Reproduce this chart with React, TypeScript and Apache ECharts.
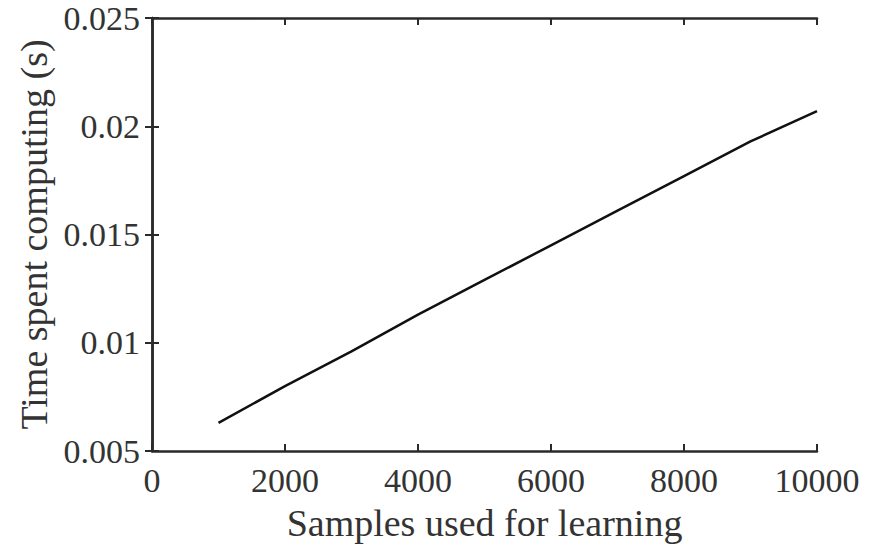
import React, { useEffect, useRef } from "react";
import * as echarts from "echarts";

const samples = [1000, 2000, 3000, 4000, 5000, 6000, 7000, 8000, 9000, 10000];
const timeSpent = [0.0063, 0.0080, 0.0096, 0.0113, 0.0129, 0.0145, 0.0161, 0.0177, 0.0193, 0.0207];
const xTitle = "Samples used for learning";
const yTitle = "Time spent computing (s)";

const FONT = "'Liberation Serif', 'Times New Roman', serif";
const AX = "#2a2a2a";
const TXT = "#333";

export default function App() {
  const ref = useRef<HTMLDivElement>(null);
  useEffect(() => {
    if (!ref.current) return;
    const chart = echarts.init(ref.current, undefined, { renderer: "svg" });
    const tickStyle = { show: true, inside: true, length: 7, lineStyle: { color: AX, width: 2 } };
    const lineStyle = { show: true, lineStyle: { color: AX, width: 2.5 } };
    chart.setOption({
      animation: false,
      backgroundColor: "#fff",
      grid: { left: 152, right: 68, top: 18, bottom: 97 },
      xAxis: [
        {
          type: "value",
          min: 0,
          max: 10000,
          interval: 2000,
          name: xTitle,
          nameLocation: "middle",
          nameGap: 53,
          nameTextStyle: { fontFamily: FONT, fontSize: 38, color: TXT },
          axisLine: lineStyle,
          axisTick: tickStyle,
          axisLabel: {
            fontFamily: FONT,
            fontSize: 34,
            color: TXT,
            margin: 12,
            formatter: (v: number) => String(v),
          },
          splitLine: { show: false },
        },
        {
          type: "value",
          position: "top",
          min: 0,
          max: 10000,
          interval: 2000,
          axisLine: lineStyle,
          axisTick: tickStyle,
          axisLabel: { show: false },
          splitLine: { show: false },
        },
      ],
      yAxis: [
        {
          type: "value",
          min: 0.005,
          max: 0.025,
          interval: 0.005,
          name: yTitle,
          nameLocation: "middle",
          nameGap: 93,
          nameTextStyle: { fontFamily: FONT, fontSize: 38, color: TXT },
          axisLine: lineStyle,
          axisTick: tickStyle,
          axisLabel: {
            fontFamily: FONT,
            fontSize: 34,
            color: TXT,
            margin: 12,
            formatter: (v: number) => String(parseFloat(v.toFixed(3))),
          },
          splitLine: { show: false },
        },
        {
          type: "value",
          position: "right",
          min: 0.005,
          max: 0.025,
          interval: 0.005,
          axisLine: lineStyle,
          axisTick: tickStyle,
          axisLabel: { show: false },
          splitLine: { show: false },
        },
      ],
      series: [
        {
          type: "line",
          data: samples.map((s, i) => [s, timeSpent[i]]),
          showSymbol: false,
          lineStyle: { color: "#111", width: 2.5 },
        },
      ],
    });
    return () => chart.dispose();
  }, []);
  return <div ref={ref} style={{ width: 885, height: 548, position: "absolute", left: 0, top: 0 }} />;
}
